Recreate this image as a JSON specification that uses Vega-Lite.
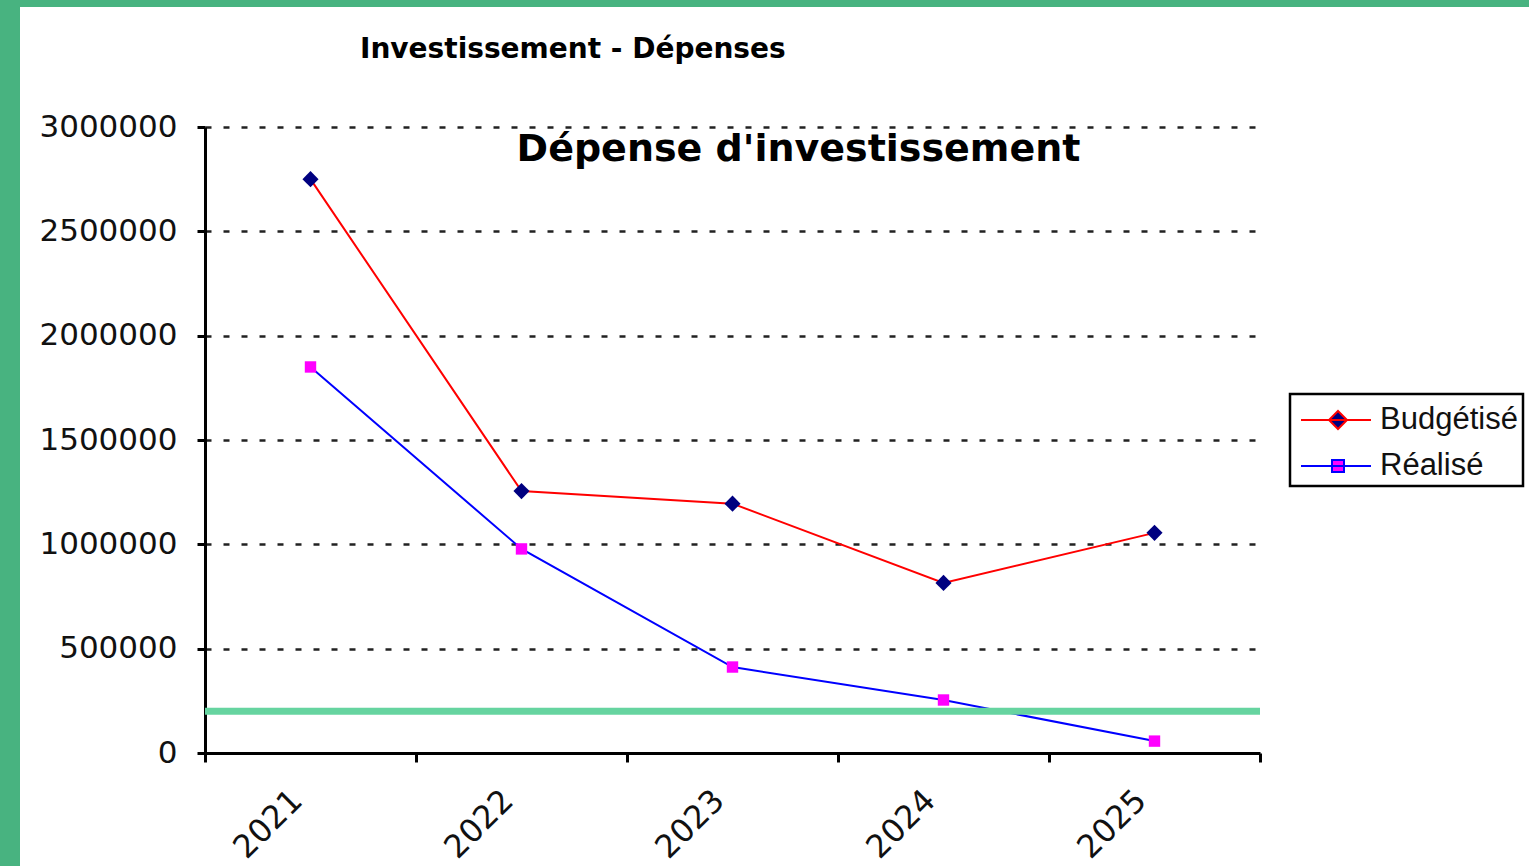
{
  "$schema": "https://vega.github.io/schema/vega-lite/v6.json",
  "padding": 0,
  "background": "white",
  "spacing": -185,
  "config": {"font": "DejaVu Sans", "view": {"stroke": null}},
  "hconcat": [
    {
      "spacing": 0,
      "vconcat": [
        {
          "width": 205,
          "height": 7,
          "view": {"fill": "#48b380", "stroke": null},
          "data": {"values": []},
          "mark": "point",
          "encoding": {}
        },
        {
          "width": 20,
          "height": 859,
          "view": {"fill": "#48b380", "stroke": null},
          "data": {"values": []},
          "mark": "point",
          "encoding": {}
        }
      ]
    },
    {
      "spacing": 29,
      "vconcat": [
        {
          "width": 1324,
          "height": 7,
          "view": {"fill": "#48b380", "stroke": null},
          "data": {"values": []},
          "mark": "point",
          "encoding": {}
        },
        {
          "width": 1055,
          "height": 626,
          "title": {
            "text": "Investissement - Dépenses",
            "anchor": "start",
            "frame": "group",
            "dx": 155,
            "offset": 47,
            "fontSize": 28,
            "fontWeight": "bold",
            "font": "DejaVu Sans",
            "color": "black"
          },
          "data": {
            "values": [
              {"year": "2021", "series": "Budgétisé", "value": 2750000},
              {"year": "2022", "series": "Budgétisé", "value": 1255000},
              {"year": "2023", "series": "Budgétisé", "value": 1195000},
              {"year": "2024", "series": "Budgétisé", "value": 815000},
              {"year": "2025", "series": "Budgétisé", "value": 1055000},
              {"year": "2021", "series": "Réalisé", "value": 1850000},
              {"year": "2022", "series": "Réalisé", "value": 978000},
              {"year": "2023", "series": "Réalisé", "value": 412000},
              {"year": "2024", "series": "Réalisé", "value": 254000},
              {"year": "2025", "series": "Réalisé", "value": 57000}
            ]
          },
          "layer": [
            {
              "mark": {"type": "line", "strokeWidth": 2},
              "encoding": {
                "x": {
                  "field": "year",
                  "type": "ordinal",
                  "scale": {"type": "band", "paddingInner": 0, "paddingOuter": 0},
                  "axis": {
                    "title": null,
                    "labelAngle": -45,
                    "labelAlign": "right",
                    "labelBaseline": "middle",
                    "labelFont": "DejaVu Sans",
                    "labelFontSize": 32,
                    "labelColor": "#111",
                    "labelPadding": 33,
                    "labelOffset": -14,
                    "tickBand": "extent",
                    "tickSize": 9,
                    "tickWidth": 3,
                    "tickColor": "black",
                    "domainColor": "black",
                    "domainWidth": 3,
                    "grid": false
                  }
                },
                "y": {
                  "field": "value",
                  "type": "quantitative",
                  "scale": {"domain": [0, 3000000], "nice": false},
                  "axis": {
                    "title": null,
                    "values": [0, 500000, 1000000, 1500000, 2000000, 2500000, 3000000],
                    "format": "d",
                    "labelFont": "DejaVu Sans",
                    "labelFontSize": 31,
                    "labelColor": "#111",
                    "labelPadding": 20,
                    "tickSize": 8,
                    "tickWidth": 3,
                    "tickColor": "black",
                    "domainColor": "black",
                    "domainWidth": 3,
                    "grid": true,
                    "gridColor": "#222",
                    "gridWidth": 2.5,
                    "gridDash": [6, 12],
                    "minExtent": 185
                  }
                },
                "color": {
                  "field": "series",
                  "type": "nominal",
                  "scale": {"domain": ["Budgétisé", "Réalisé"], "range": ["#ff0000", "#0000ff"]},
                  "legend": {
                    "title": null,
                    "orient": "none",
                    "legendX": 1290,
                    "legendY": 394,
                    "padding": 5,
                    "strokeColor": "black",
                    "fillColor": "white",
                    "symbolType": "M-0.75,0H2.75",
                    "symbolSize": 1600,
                    "symbolStrokeWidth": 2,
                    "labelFont": "Liberation Sans",
                    "labelFontSize": 31,
                    "labelColor": "#111",
                    "labelOffset": 43,
                    "rowPadding": 10,
                    "labelLimit": 160,
                    "encode": {
                      "legend": {"update": {"strokeWidth": {"value": 2.5}}},
                      "symbols": {
                        "update": {
                          "shape": {"signal": "datum.value === 'Budgétisé' ? 'M-0.75,0H2.75M1.1,-0.45L1.55,0L1.1,0.45L0.65,0Z' : 'M-0.75,0H2.75M0.8,-0.3H1.4V0.3H0.8Z'"},
                          "fill": {"signal": "datum.value === 'Budgétisé' ? '#000080' : '#ff00ff'"},
                          "fillOpacity": {"value": 1},
                          "opacity": {"value": 1}
                        }
                      }
                    }
                  }
                }
              }
            },
            {
              "transform": [{"filter": "datum.series === 'Budgétisé'"}],
              "mark": {"type": "point", "shape": "diamond", "filled": true, "size": 260, "opacity": 1, "color": "#000080"},
              "encoding": {
                "x": {"field": "year", "type": "ordinal"},
                "y": {"field": "value", "type": "quantitative"}
              }
            },
            {
              "transform": [{"filter": "datum.series === 'Réalisé'"}],
              "mark": {"type": "point", "shape": "square", "filled": true, "size": 130, "opacity": 1, "color": "#ff00ff"},
              "encoding": {
                "x": {"field": "year", "type": "ordinal"},
                "y": {"field": "value", "type": "quantitative"}
              }
            },
            {
              "data": {"values": [{"label": "Dépense d'investissement"}]},
              "mark": {"type": "text", "fontSize": 38, "fontWeight": "bold", "font": "DejaVu Sans", "dx": 66, "align": "center", "baseline": "middle", "color": "black"},
              "encoding": {
                "x": {"datum": "2023", "type": "ordinal"},
                "y": {"datum": 2890000, "type": "quantitative"},
                "text": {"field": "label"}
              }
            },
            {
              "data": {"values": [{"v": 200000}]},
              "mark": {"type": "rule", "color": "#66d4a0", "strokeWidth": 7},
              "encoding": {
                "y": {"field": "v", "type": "quantitative"}
              }
            }
          ]
        }
      ]
    }
  ]
}
